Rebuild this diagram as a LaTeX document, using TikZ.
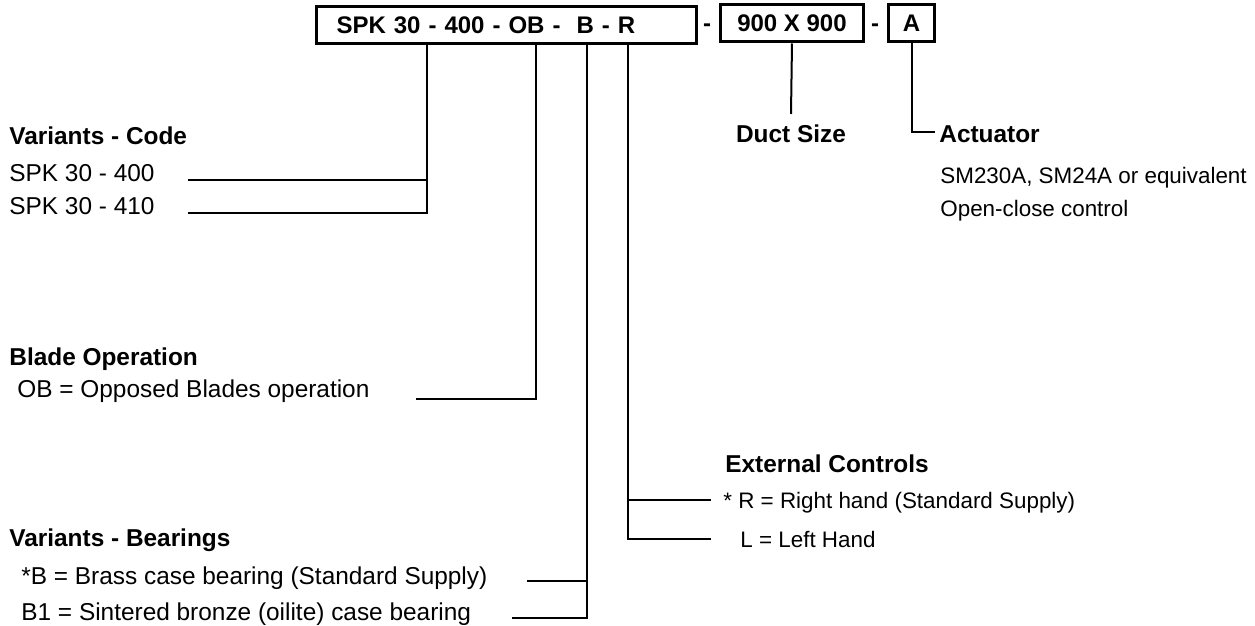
\documentclass[tikz,border=0pt]{standalone}
\usepackage{fontspec}
\setmainfont{Liberation Sans}
\usetikzlibrary{positioning, calc}

\begin{document}
\begin{tikzpicture}[x = 0.5pt, y = -0.5pt,
    every node/.style = { inner sep = 0pt, font = \fontsize{12.2}{14}\selectfont },
    head/.style = { anchor = base west, font = \fontsize{12.2}{14}\selectfont\bfseries },
    item/.style = { anchor = base west },
    small/.style = { anchor = base west, font = \fontsize{11.2}{13}\selectfont },
    codebox/.style = { draw, line width = 1.5pt, minimum height = 18.5pt, font = \fontsize{12}{14}\selectfont\bfseries },
    lead/.style = { line width = 1pt }]
      \useasboundingbox (0,0) rectangle (1255,626);
      \node [codebox, anchor = north west, text width = 170pt, inner xsep = 10pt, align = left] (code) at (315,5) { SPK 30 - 400 - OB - \ B - R };
      \node [anchor = base, font = \fontsize{12}{14}\selectfont\bfseries] (dashA) at (707,32) { - };
      \node [codebox, anchor = west, minimum width = 71.5pt] (size) at (719,23.5) { 900 X 900 };
      \node [anchor = base, font = \fontsize{12}{14}\selectfont\bfseries] (dashB) at (875,32) { - };
      \node [codebox, anchor = west, minimum width = 23pt] (act) at (887,23.5) { A };

      \node [head] (codehead) at (9,145) { Variants - Code };
      \node [item] (spkA) at (9,182) { SPK 30 - 400 };
      \node [item] (spkB) at (9,215) { SPK 30 - 410 };
      \node [head] (bladehead) at (9,365) { Blade Operation };
      \node [item] (blade) at (17,397) { OB = Opposed Blades operation };
      \node [head] (bearhead) at (9,546) { Variants - Bearings };
      \node [item] (bearA) at (21,584) { *B = Brass case bearing (Standard Supply) };
      \node [item] (bearB) at (21,620) { B1 = Sintered bronze (oilite) case bearing };
      \node [head, anchor = base] (ducthead) at (791,143) { Duct Size };
      \node [head] (acthead) at (939,143) { Actuator };
      \node [small] (actA) at (940,184) { SM230A, SM24A or equivalent };
      \node [small] (actB) at (940,217) { Open-close control };
      \node [head] (exthead) at (725,473) { External Controls };
      \node [small] (extA) at (723,508) { * R = Right hand (Standard Supply) };
      \node [small] (extB) at (740,547) { L = Left Hand };

      \coordinate (dv) at ($(code.south west)+(112,0)$);
      \coordinate (db) at ($(code.south west)+(221,0)$);
      \coordinate (dbr) at ($(code.south west)+(272,0)$);
      \coordinate (dr) at ($(code.south west)+(313,0)$);
      \coordinate (spkAend) at (188,180);
      \coordinate (spkBend) at (188,213);
      \coordinate (bladeend) at (416,399);
      \coordinate (bearAend) at (527,581);
      \coordinate (bearBend) at (512,618);
      \coordinate (extAend) at (711,500);
      \coordinate (extBend) at (711,539);
      \coordinate (ductend) at (791,114);
      \coordinate (actend) at (935,132);

      \draw [lead] (dv) |- (spkBend);
      \draw [lead] (spkAend) -- (spkAend -| dv);
      \draw [lead] (db) |- (bladeend);
      \draw [lead] (dbr) |- (bearBend);
      \draw [lead] (bearAend) -- (bearAend -| dbr);
      \draw [lead] (dr) |- (extBend);
      \draw [lead] (extAend) -- (extAend -| dr);
      \draw [lead] (size.south) -- (ductend);
      \draw [lead] (act.south) |- (actend);
    \end{tikzpicture}
\end{document}
